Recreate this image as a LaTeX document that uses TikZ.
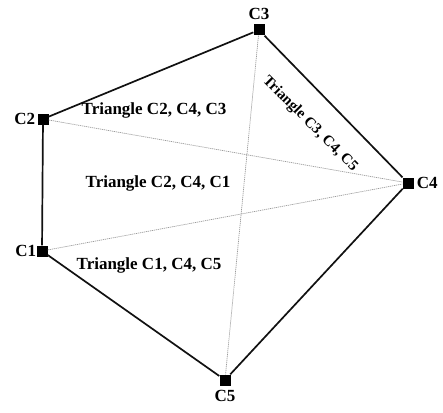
\documentclass[tikz,border=0pt]{standalone}
\usepackage{fontspec}
\setmainfont{Liberation Serif}
\usepackage{xcolor}
\usepackage{tikz}
\usetikzlibrary{
  positioning,
  calc
}
\definecolor{edgeBlack}{HTML}{111111}
\definecolor{diagGray}{HTML}{9A9A9A}
\tikzset{
  corner/.style={
    rectangle, fill=black, draw=none,
    minimum size=11pt, inner sep=0pt
  },
  vlabel/.style={
    font=\fontsize{17}{19}\selectfont\bfseries,
    inner sep=0pt
  },
  tri label/.style={
    font=\fontsize{17}{19}\selectfont\bfseries,
    inner sep=0pt
  },
  hull/.style={draw=edgeBlack, line width=1.7pt},
  diag/.style={draw=diagGray, line width=0.7pt,
    dash pattern=on 1.2pt off 0.8pt},
}

\begin{document}
\begin{tikzpicture}[x=1pt, y=-1pt]
    \useasboundingbox (0,0) rectangle (443,412);
    % Nodes
    \node[corner] (c1) at (42,251) {};
    \node[corner] (c2) at (43,119) {};
    \node[corner] (c3) at (259,30) {};
    \node[corner] (c4) at (408,183) {};
    \node[corner] (c5) at (225,380) {};
    \node[vlabel, above=4pt of c3] (c3lab) {C3};
    \node[vlabel, left=2pt of c2] (c2lab) {C2};
    \node[vlabel, right=3pt of c4] (c4lab) {C4};
    \node[vlabel, left=0pt of c1] (c1lab) {C1};
    \node[vlabel, below=4pt of c5] (c5lab) {C5};

    % Diagonals
    \draw[diag] (c2) -- (c4);
    \draw[diag] (c1) -- (c4);
    \draw[diag] (c3) -- (c5);

    % Hull
    \draw[hull] (c1) -- (c2) -- (c3) -- (c4) -- (c5) -- (c1);

    % Triangle labels
    \node[tri label] (t243) at (154,110) {Triangle C2, C4, C3};
    \node[tri label] (t241) at (158,183) {Triangle C2, C4, C1};
    \node[tri label] (t145) at (149,265) {Triangle C1, C4, C5};
    \node[tri label, font=\fontsize{15}{17}\selectfont\bfseries,
      rotate=-45] (t345) at (310,124) {Triangle C3, C4, C5};
\end{tikzpicture}
\end{document}
